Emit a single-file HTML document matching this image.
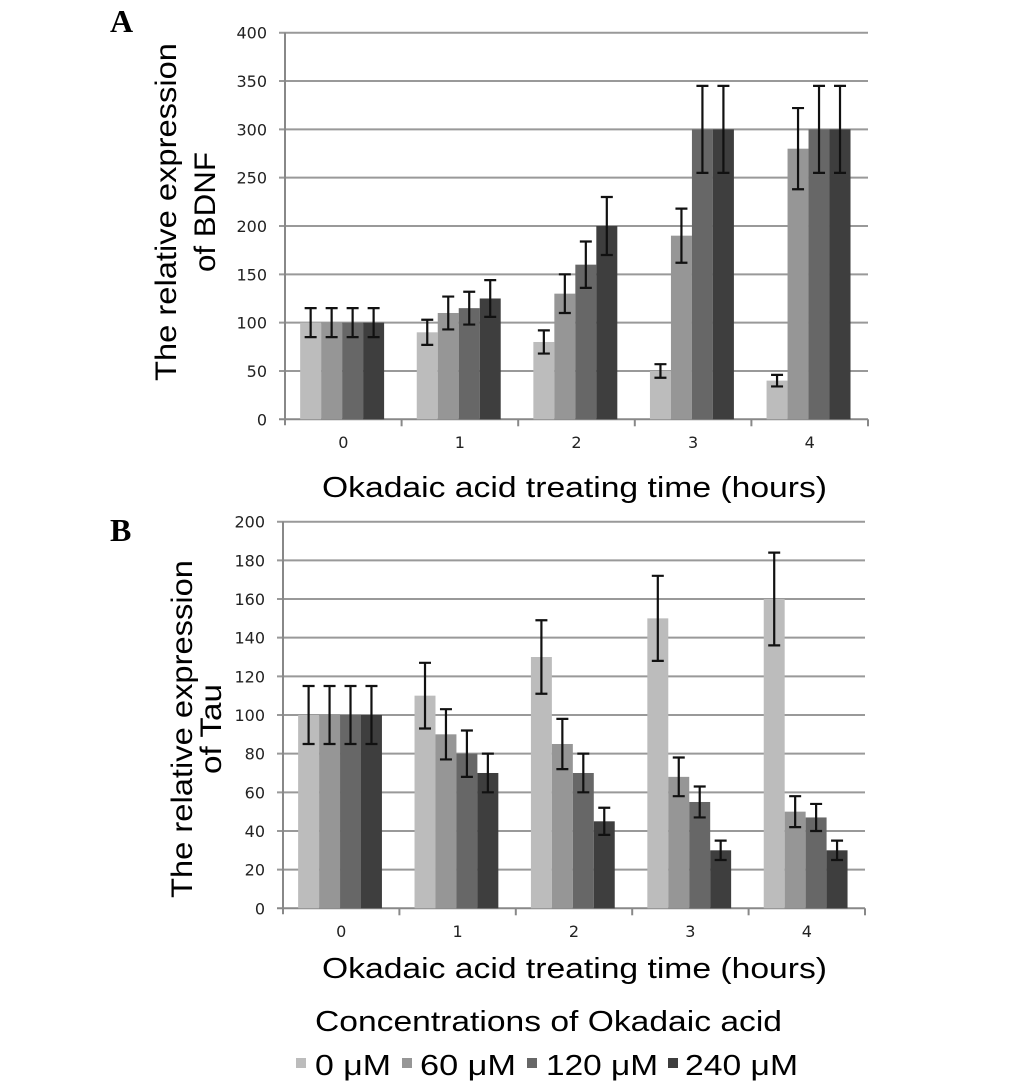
<!DOCTYPE html>
<html><head><meta charset="utf-8"><style>
html,body{margin:0;padding:0;background:#fff;}
svg{display:block;font-family:"Liberation Sans",sans-serif;}
</style></head><body>
<svg id="fig" width="1033" height="1089" viewBox="0 0 1033 1089">
<text x="110" y="32" font-family="Liberation Serif,serif" font-weight="bold" font-size="32">A</text>
<text x="110" y="541" font-family="Liberation Serif,serif" font-weight="bold" font-size="32">B</text>
<g id="chartA"></g>
<g id="chartB"></g>
<text x="315" y="1031" font-size="29" textLength="467" lengthAdjust="spacingAndGlyphs">Concentrations of Okadaic acid</text>
<g id="legend"></g>
</svg>
<script>
const categories = ["0","1","2","3","4"];
const seriesNames = ["0 μM","60 μM","120 μM","240 μM"];
const colors = ["#bcbcbc","#969696","#676767","#3e3e3e"];
const bdnfValues = [[100,90,80,50,40],[100,110,130,190,280],[100,115,160,300,300],[100,125,200,300,300]];
const bdnfErrors = [[15,13,12,7,6],[15,17,20,28,42],[15,17,24,45,45],[15,19,30,45,45]];
const bdnfTicks = [0,50,100,150,200,250,300,350,400];
const tauValues = [[100,110,130,150,160],[100,90,85,68,50],[100,80,70,55,47],[100,70,45,30,30]];
const tauErrors = [[15,17,19,22,24],[15,13,13,10,8],[15,12,10,8,7],[15,10,7,5,5]];
const tauTicks = [0,20,40,60,80,100,120,140,160,180,200];
const NS="http://www.w3.org/2000/svg";
function mk(tag,attrs,parent){const e=document.createElementNS(NS,tag);for(const k in attrs)e.setAttribute(k,attrs[k]);parent.appendChild(e);return e;}
function drawChart(g,cfg){
  const {x0,x1,y0,y1,max,ticks,vals,errs,title1,title2,t1x,t2x,tcy,l1,l2,catY,xTitleY,pfx}=cfg;
  const ys=v=>y0-(v/max)*(y0-y1);
  const cw=(x1-x0)/categories.length;
  const xs=i=>x0+i*cw;
  ticks.forEach(t=>{
    const y=ys(t);
    const l=mk('line',{x1:x0-6,x2:x1,y1:y,y2:y,stroke:t===0?'#888':'#999','stroke-width':2},g);
    
    
    const tx=mk('text',{x:x0-18,y:y+6,'text-anchor':'end','font-size':16,'font-family':'DejaVu Sans,sans-serif',fill:'#222'},g);
    tx.textContent=t;
    
    
  });
  const ax=mk('line',{x1:x0,x2:x0,y1:y1,y2:y0+6,stroke:'#888','stroke-width':2},g);
  
  
  const bw=cw*0.18, off=cw*0.13;
  categories.forEach((c,i)=>{
    const tk=mk('line',{x1:xs(i+1),x2:xs(i+1),y1:y0,y2:y0+7,stroke:'#888','stroke-width':2},g);
    
    
    const lb=mk('text',{x:xs(i)+cw/2,y:catY,'text-anchor':'middle','font-size':16,'font-family':'DejaVu Sans,sans-serif',fill:'#222'},g);
    lb.textContent=c;
    
    
    for(let s=0;s<4;s++){
      const v=vals[s][i], e=errs[s][i];
      const bx=xs(i)+off+s*bw;
      const r=mk('rect',{x:bx,y:ys(v),width:bw,height:y0-ys(v),fill:colors[s]},g);
      
      
      const cx=bx+bw/2;
      const eb=mk('path',{d:`M${cx-6},${ys(v+e)}H${cx+6}M${cx},${ys(v+e)}V${ys(v-e)}M${cx-6},${ys(v-e)}H${cx+6}`,stroke:'#111','stroke-width':2.2,fill:'none'},g);
      
      
    }
  });
  const a1=mk('text',{x:t1x,y:tcy,'text-anchor':'middle','font-size':30,textLength:l1,lengthAdjust:'spacingAndGlyphs',transform:`rotate(-90 ${t1x} ${tcy})`,'dominant-baseline':'middle'},g);
  a1.textContent=title1;
  
  
  const a2=mk('text',{x:t2x,y:tcy,'text-anchor':'middle','font-size':30,textLength:l2,lengthAdjust:'spacingAndGlyphs',transform:`rotate(-90 ${t2x} ${tcy})`,'dominant-baseline':'middle'},g);
  a2.textContent=title2;
  
  
  const xt=mk('text',{x:322,y:xTitleY,'font-size':29,textLength:505,lengthAdjust:'spacingAndGlyphs'},g);
  xt.textContent='Okadaic acid treating time (hours)';
  
  
}
drawChart(document.getElementById('chartA'),{x0:285,x1:868,y0:419.3,y1:32.7,max:400,ticks:bdnfTicks,vals:bdnfValues,errs:bdnfErrors,title1:'The relative expression',title2:'of BDNF',t1x:168,t2x:207,tcy:212,l1:338,l2:120,catY:448,xTitleY:497,pfx:'bdnf'});
drawChart(document.getElementById('chartB'),{x0:283,x1:865,y0:908.3,y1:521.7,max:200,ticks:tauTicks,vals:tauValues,errs:tauErrors,title1:'The relative expression',title2:'of Tau',t1x:184,t2x:213,tcy:729,l1:338,l2:90,catY:937,xTitleY:978,pfx:'tau'});
const lg=document.getElementById('legend');
const mx=[296,402,527,668], tx=[315,420,546,685], tw=[76,96,112,113];
seriesNames.forEach((n,i)=>{
  const r=mk('rect',{x:mx[i],y:1058,width:10,height:10,fill:colors[i]},lg);
  
  
  const t=mk('text',{x:tx[i],y:1075,'font-size':29,textLength:tw[i],lengthAdjust:'spacingAndGlyphs'},lg);
  t.textContent=n;
  
  
});
</script>
</body></html>
